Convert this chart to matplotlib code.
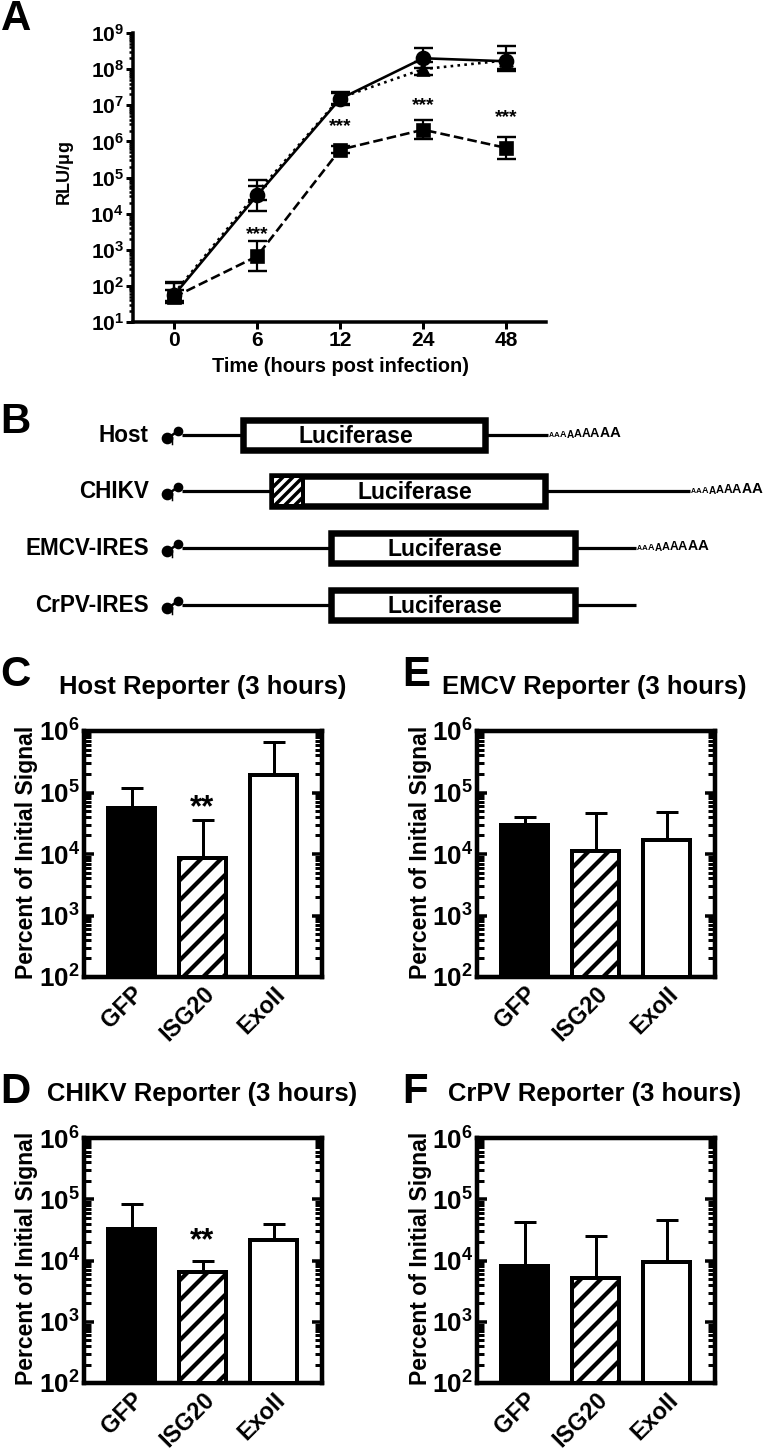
import numpy as np
import matplotlib
matplotlib.use('Agg')
import matplotlib.pyplot as plt
from matplotlib.patches import Rectangle
from matplotlib.ticker import LogLocator, NullFormatter, FixedLocator

DPI = 120
PT = 72.0 / DPI

plt.rcParams['font.family'] = ['Liberation Sans', 'DejaVu Sans']
plt.rcParams['font.weight'] = 'bold'
plt.rcParams['mathtext.fontset'] = 'custom'
plt.rcParams['mathtext.bf'] = 'Liberation Sans:bold'
plt.rcParams['mathtext.rm'] = 'Liberation Sans'
plt.rcParams['hatch.color'] = 'black'
plt.rcParams['hatch.linewidth'] = 4.2 * PT

# panel A
timepoints = ['0', '6', '12', '24', '48']
circle_y = [55, 3.2e4, 1.5e7, 2.0e8, 1.65e8]
circle_hi = [120, 8.7e4, 2.4e7, 3.8e8, 4.4e8]
circle_lo = [35, 1.15e4, 1.0e7, 1.1e8, 9.0e7]
triangle_y = [62, 3.8e4, 1.6e7, 1.0e8, 1.75e8]
triangle_hi = [126, 5.8e4, 2.2e7, 1.6e8, 2.8e8]
triangle_lo = [38, 2.4e4, 1.1e7, 7.0e7, 1.0e8]
square_y = [49, 660, 5.9e5, 2.1e6, 6.6e5]
square_hi = [75, 1780, 7.5e5, 3.8e6, 1.32e6]
square_lo = [34, 250, 4.7e5, 1.2e6, 3.2e5]
stars_a = [1, 2, 3, 4]
stars_a_y = [2.6e3, 2.6e6, 1.0e7, 4.5e6]

# panels C-F
bar_names = ['GFP', 'ISG20', 'ExoII']
host_vals = [5.5e4, 8.5e3, 1.9e5]
host_tops = [1.2e5, 3.55e4, 6.7e5]
emcv_vals = [3.0e4, 1.12e4, 1.68e4]
emcv_tops = [4.0e4, 4.6e4, 4.8e4]
chikv_vals = [3.25e4, 6.4e3, 2.15e4]
chikv_tops = [8.5e4, 9.8e3, 3.9e4]
crpv_vals = [7.9e3, 5.1e3, 9.3e3]
crpv_tops = [4.2e4, 2.5e4, 4.5e4]

# panel B constructs
construct_names = ['Host', 'CHIKV', 'EMCV-IRES', 'CrPV-IRES']
box_start = [240, 269, 328, 328]
box_end = [488, 548, 578, 578]
line_end = [548, 690, 636, 636]
luc_center = [356, 415, 445, 445]
has_polya = [True, True, True, False]
row_y = [435, 491, 548, 605]

fig = plt.figure(figsize=(766 / DPI, 1450 / DPI), dpi=DPI)


def px_axes(l, t, r, b):
    return fig.add_axes([l / 766, 1 - b / 1450, (r - l) / 766, (b - t) / 1450])


ov = fig.add_axes([0, 0, 1, 1], zorder=5)
ov.set_xlim(0, 766)
ov.set_ylim(1450, 0)
ov.axis('off')
ov.patch.set_alpha(0)


def log_labels(ax, lo, hi, size):
    ax.set_yscale('log')
    ax.set_ylim(10.0 ** lo, 10.0 ** hi)
    ax.yaxis.set_major_locator(FixedLocator([10.0 ** e for e in range(lo, hi + 1)]))
    ax.yaxis.set_minor_locator(LogLocator(base=10, subs=np.arange(2, 10), numticks=20))
    ax.yaxis.set_minor_formatter(NullFormatter())
    ax.set_yticklabels([r'$\mathbf{10^{%d}}$' % e for e in range(lo, hi + 1)], fontsize=size * PT)


# A
ax = px_axes(133, 33, 546, 322)
log_labels(ax, 1, 9, 21)
xs = np.arange(5)
series = [(circle_y, circle_lo, circle_hi, 'o', '-', 14),
          (triangle_y, triangle_lo, triangle_hi, '^', ':', 13),
          (square_y, square_lo, square_hi, 's', '--', 13)]
for y, lo, hi, mk, ls, ms in series:
    y = np.array(y)
    err = [y - np.array(lo), np.array(hi) - y]
    ax.errorbar(xs, y, yerr=err, color='black', marker=mk, ms=ms * PT, ls=ls,
                lw=2.6 * PT, elinewidth=2.2 * PT, capsize=9.5 * PT, capthick=2.4 * PT,
                clip_on=False)
ax.set_xlim(-0.494, 4.48)
ax.set_xticks(xs)
ax.set_xticklabels(timepoints, fontsize=21 * PT)
for s in ['top', 'right']:
    ax.spines[s].set_visible(False)
for s in ['left', 'bottom']:
    ax.spines[s].set_linewidth(3.5 * PT)
ax.tick_params(axis='x', length=7 * PT, width=3 * PT, pad=2 * PT)
ax.tick_params(axis='y', which='major', length=7 * PT, width=3 * PT, pad=2 * PT)
ax.tick_params(axis='y', which='minor', length=4 * PT, width=2.5 * PT)
for x, y in zip(stars_a, stars_a_y):
    ax.text(x, y, '***', ha='center', va='center', fontsize=19 * PT)
ov.text(340, 366, 'Time (hours post infection)', ha='center', va='center', fontsize=20 * PT)
ov.text(65, 174, r'RLU/$\mathrm{\mu g}$', ha='center', va='center', rotation=90, fontsize=18 * PT)


def bar_panel(l, t, r, b, vals, tops, title, title_x, title_y, star):
    ax = px_axes(l, t, r, b)
    log_labels(ax, 2, 6, 26)
    x = np.arange(3)
    w = 0.65
    ax.bar(x[0], vals[0], w, bottom=100, color='black', edgecolor='black', lw=4 * PT, zorder=3)
    ax.bar(x[1], vals[1], w, bottom=100, color='white', edgecolor='black', lw=4 * PT,
           hatch='//', zorder=3)
    ax.bar(x[2], vals[2], w, bottom=100, color='white', edgecolor='black', lw=4 * PT, zorder=3)
    for xi, v, tp in zip(x, vals, tops):
        ax.errorbar(xi, v, yerr=[[0], [tp - v]], color='black', elinewidth=3 * PT,
                    capsize=11.5 * PT, capthick=3 * PT, zorder=2)
    ax.set_xlim(-0.669, 2.683)
    ax.set_xticks(x)
    ax.set_xticklabels(bar_names, rotation=45, ha='right', rotation_mode='anchor', fontsize=23.5 * PT)
    ax.tick_params(axis='x', length=0, pad=5 * PT)
    for s in ax.spines.values():
        s.set_linewidth(4.5 * PT)
    ax.tick_params(axis='y', which='major', direction='in', left=True, right=True,
                   length=10 * PT, width=3.5 * PT, pad=4 * PT)
    ax.tick_params(axis='y', which='minor', direction='in', left=True, right=True,
                   length=7 * PT, width=3 * PT)
    if star is not None:
        ax.text(1, star, '**', ha='center', va='center', fontsize=31 * PT, zorder=4)
    ov.text(title_x, title_y, title, ha='left', va='center', fontsize=25.6 * PT)
    ov.text(l - 57, (t + b) / 2 - 2, 'Percent of Initial Signal', ha='center', va='center',
            rotation=90, fontsize=23 * PT)


bar_panel(84, 731, 322, 977, host_vals, host_tops, 'Host Reporter (3 hours)', 59, 687, 5.6e4)
bar_panel(477, 731, 715, 977, emcv_vals, emcv_tops, 'EMCV Reporter (3 hours)', 442, 687, None)
bar_panel(84, 1138, 322, 1383, chikv_vals, chikv_tops, 'CHIKV Reporter (3 hours)', 47, 1094, 2.1e4)
bar_panel(477, 1138, 715, 1383, crpv_vals, crpv_tops, 'CrPV Reporter (3 hours)', 448, 1094, None)

# B
for name, x0, x1, xe, xt, pa, y in zip(construct_names, box_start, box_end, line_end,
                                       luc_center, has_polya, row_y):
    ov.text(149, y, name, ha='right', va='center', fontsize=22.5 * PT)
    ov.plot([182, xe], [y, y], color='black', lw=3.2 * PT, solid_capstyle='butt', zorder=1)
    # cap
    ov.plot([168, 178], [y + 3, y - 4], color='black', lw=2.5 * PT)
    ov.plot([172, 172], [y + 2, y + 9], color='black', lw=1.5 * PT)
    ov.plot([167], [y + 3], 'o', color='black', ms=10 * PT)
    ov.plot([178], [y - 4], 'o', color='black', ms=8 * PT)
    ov.add_patch(Rectangle((x0 + 3, y - 15), x1 - x0 - 6, 30, fc='white', ec='black',
                           lw=6.5 * PT, zorder=2))
    ov.text(xt, y + 1, 'Luciferase', ha='center', va='center', fontsize=23 * PT, zorder=3)
    if name == 'CHIKV':
        h = ov.add_patch(Rectangle((x0 + 3, y - 15), 31, 30, fc='white', ec='black',
                                   lw=4 * PT, hatch='////', zorder=3))
        h.set_hatch_linewidth(3.5 * PT)
    if pa:
        cx = xe + 1
        for i in range(9):
            fs = 7 + i * 1.0
            ov.text(cx, y + 0.5 + (i * -0.3), 'A', ha='left', va='center', fontsize=fs * PT)
            cx += fs * 0.72

# panel letters
panel_letters = ['A', 'B', 'C', 'D', 'E', 'F']
letter_x = [1, 0, 0, 0, 402, 402]
letter_y = [19, 422, 675, 1092, 675, 1092]
for t, x, y in zip(panel_letters, letter_x, letter_y):
    ov.text(x, y, t, ha='left', va='center', fontsize=42 * PT)

fig.savefig('out.png', dpi=DPI)
